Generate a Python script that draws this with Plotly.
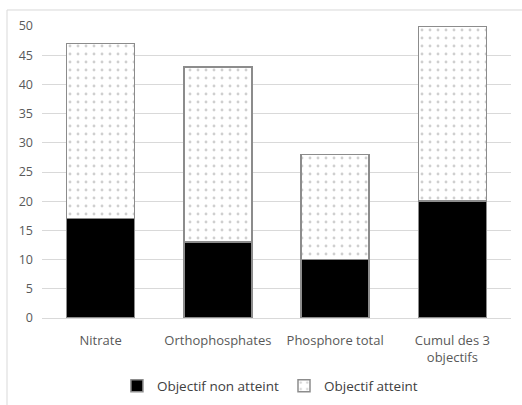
import plotly.graph_objects as go

categories = ["Nitrate", "Orthophosphates", "Phosphore total", "Cumul des 3<br>objectifs"]
non_atteint = [17, 13, 10, 20]
atteint = [30, 30, 18, 30]
y_ticks = [0, 5, 10, 15, 20, 25, 30, 35, 40, 45, 50]

fig = go.Figure()
fig.add_trace(go.Bar(
    x=categories, y=non_atteint, name="Objectif non atteint",
    marker=dict(color="black", line=dict(color="#8c8c8c", width=1.5)),
))
fig.add_trace(go.Bar(
    x=categories, y=atteint, name="Objectif atteint",
    marker=dict(color="white", line=dict(color="#8c8c8c", width=1.5),
                pattern=dict(shape=".", fgcolor="#a0a0a0", bgcolor="white", size=8, solidity=0.1)),
))

fig.update_layout(
    barmode="stack",
    bargap=0.42,
    width=522, height=405,
    margin=dict(l=42, r=11, t=26, b=87, autoexpand=False),
    plot_bgcolor="white", paper_bgcolor="white",
    font=dict(family="Open Sans", size=13, color="#595959"),
    legend=dict(orientation="h", x=0.486, xanchor="center", y=-0.18, yanchor="top",
                font=dict(size=13.5, color="#404040"), traceorder="normal",
                itemwidth=30, tracegroupgap=0),
    showlegend=True,
    shapes=[dict(type="rect", xref="paper", yref="paper", x0=-0.0746, x1=1.06, y0=-0.3, y1=1.0548,
                 line=dict(color="#d9d9d9", width=1), fillcolor="rgba(0,0,0,0)", layer="below")],
)
fig.update_yaxes(range=[0, 50], tickvals=y_ticks, showgrid=True, gridcolor="#d9d9d9",
                 gridwidth=1, zeroline=False, showline=False, ticks="", ticklen=0,
                 automargin=False, ticklabelstandoff=8,
                 tickfont=dict(size=12.5, color="#595959"))
fig.update_xaxes(showline=True, linecolor="#d9d9d9", linewidth=1, ticks="",
                 automargin=False, ticklabelstandoff=10,
                 tickfont=dict(size=13, color="#595959"))

fig.write_html("out.html", config={"displayModeBar": False},
               post_script="document.body.style.margin='0';document.body.style.overflow='hidden';")
